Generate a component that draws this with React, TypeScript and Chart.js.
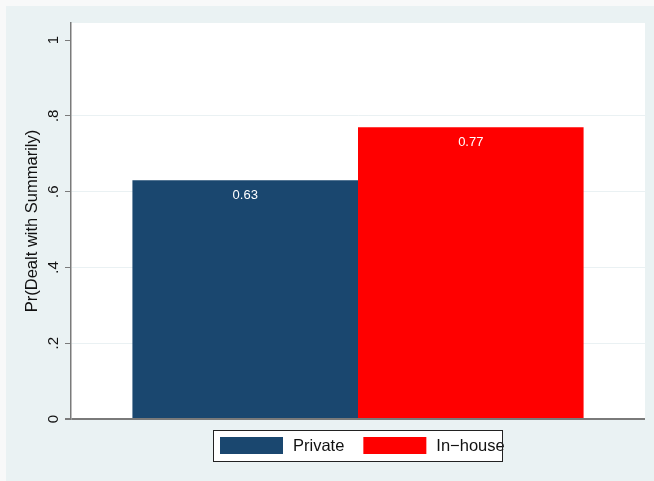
import React, { useEffect, useRef } from 'react';
import { Chart, registerables } from 'chart.js';

Chart.register(...registerables);

// ---- data ----
const categories: string[] = ['Private', 'In\u2212house'];
const values: number[] = [0.63, 0.77];
const barColors: string[] = ['#1A476F', '#FF0000'];
const yTickValues: number[] = [0, 0.2, 0.4, 0.6, 0.8, 1];
const yTitle = 'Pr(Dealt with Summarily)';

const FONT = '"Liberation Sans", Arial, Helvetica, sans-serif';

const fmtTick = (v: number): string => {
  if (v === 0) return '0';
  if (v === 1) return '1';
  return String(v).replace(/^0/, '');
};

const backgroundPlugin = {
  id: 'stataBg',
  beforeDraw(chart: any) {
    const { ctx, width, height, chartArea } = chart;
    ctx.save();
    ctx.fillStyle = '#F8F9F9';
    ctx.fillRect(0, 0, width, height);
    ctx.fillStyle = '#EAF2F3';
    ctx.fillRect(6, 6, width - 6, height - 6);
    ctx.fillStyle = '#FFFFFF';
    ctx.fillRect(chartArea.left, chartArea.top, chartArea.right - chartArea.left, chartArea.bottom - chartArea.top);
    ctx.restore();
  },
};

const valueLabelPlugin = {
  id: 'valueLabels',
  afterDatasetsDraw(chart: any) {
    const { ctx } = chart;
    ctx.save();
    ctx.fillStyle = '#FFFFFF';
    ctx.font = `13px ${FONT}`;
    ctx.textAlign = 'center';
    ctx.textBaseline = 'middle';
    chart.data.datasets.forEach((ds: any, i: number) => {
      const meta = chart.getDatasetMeta(i);
      meta.data.forEach((bar: any, j: number) => {
        const v = ds.data[j] as number;
        ctx.fillText(v.toFixed(2), bar.x, bar.y + 15);
      });
    });
    ctx.restore();
  },
};

const boxLegendPlugin = {
  id: 'boxLegend',
  afterDraw(chart: any) {
    const { ctx, chartArea } = chart;
    const cx = (chartArea.left + chartArea.right) / 2;
    const boxLeft = Math.round(cx - 145);
    const boxTop = chartArea.bottom + 11;
    const boxW = 289;
    const boxH = 31;
    ctx.save();
    ctx.fillStyle = '#FFFFFF';
    ctx.fillRect(boxLeft, boxTop, boxW, boxH);
    ctx.font = `16.5px ${FONT}`;
    ctx.textBaseline = 'middle';
    ctx.textAlign = 'left';
    let x = boxLeft + 7;
    chart.data.datasets.forEach((ds: any) => {
      ctx.fillStyle = ds.backgroundColor;
      ctx.fillRect(x, boxTop + 7, 63, 17);
      x += 63 + 10;
      ctx.fillStyle = '#111111';
      ctx.fillText(ds.label, x, boxTop + 16);
      x += ctx.measureText(ds.label).width + 19;
    });
    ctx.strokeStyle = '#222222';
    ctx.lineWidth = 1;
    ctx.strokeRect(boxLeft + 0.5, boxTop + 0.5, boxW, boxH);
    ctx.restore();
  },
};

export default function App() {
  const canvasRef = useRef<HTMLCanvasElement | null>(null);

  useEffect(() => {
    document.body.style.margin = '0';
    const canvas = canvasRef.current;
    if (!canvas) return;
    const chart = new Chart(canvas, {
      type: 'bar',
      data: {
        labels: [''],
        datasets: categories.map((c, i) => ({
          label: c,
          data: [values[i]],
          backgroundColor: barColors[i],
          borderWidth: 0,
          categoryPercentage: 0.786,
          barPercentage: 1,
        })),
      },
      options: {
        responsive: false,
        animation: false,
        devicePixelRatio: window.devicePixelRatio || 1,
        layout: { padding: { left: 6, top: 23, right: 9, bottom: 62 } },
        plugins: {
          legend: { display: false },
          tooltip: { enabled: false },
          title: { display: false },
        },
        scales: {
          x: { display: false },
          y: {
            min: 0,
            max: 1.045,
            afterBuildTicks: (scale: any) => {
              scale.ticks = yTickValues.map((v) => ({ value: v }));
            },
            afterFit: (scale: any) => {
              scale.width = 65;
            },
            ticks: {
              minRotation: 90,
              maxRotation: 90,
              crossAlign: 'center',
              padding: 5,
              color: '#111111',
              font: { family: FONT, size: 15 },
              callback: (v: any) => fmtTick(Number(v)),
            },
            grid: {
              drawTicks: true,
              tickLength: 6,
              tickColor: '#7A7A7A',
              color: (c: any) => {
                const v = c.tick ? c.tick.value : null;
                if (v === 0) return '#7A7A7A';
                if (v === 1) return 'rgba(0,0,0,0)';
                return '#EAF1F3';
              },
              lineWidth: (c: any) => (c.tick && c.tick.value === 0 ? 2 : 1),
            },
            border: { display: true, color: '#7A7A7A', width: 1.5 },
            title: {
              display: true,
              text: yTitle,
              color: '#111111',
              font: { family: FONT, size: 16.5 },
              padding: { top: 17, bottom: 0 },
            },
          },
        },
      },
      plugins: [backgroundPlugin, valueLabelPlugin, boxLegendPlugin],
    } as any);
    return () => chart.destroy();
  }, []);

  return (
    <div style={{ position: 'absolute', left: 0, top: 0, width: 654, height: 481 }}>
      <canvas ref={canvasRef} width={654} height={481} style={{ width: 654, height: 481, display: 'block' }} />
    </div>
  );
}
